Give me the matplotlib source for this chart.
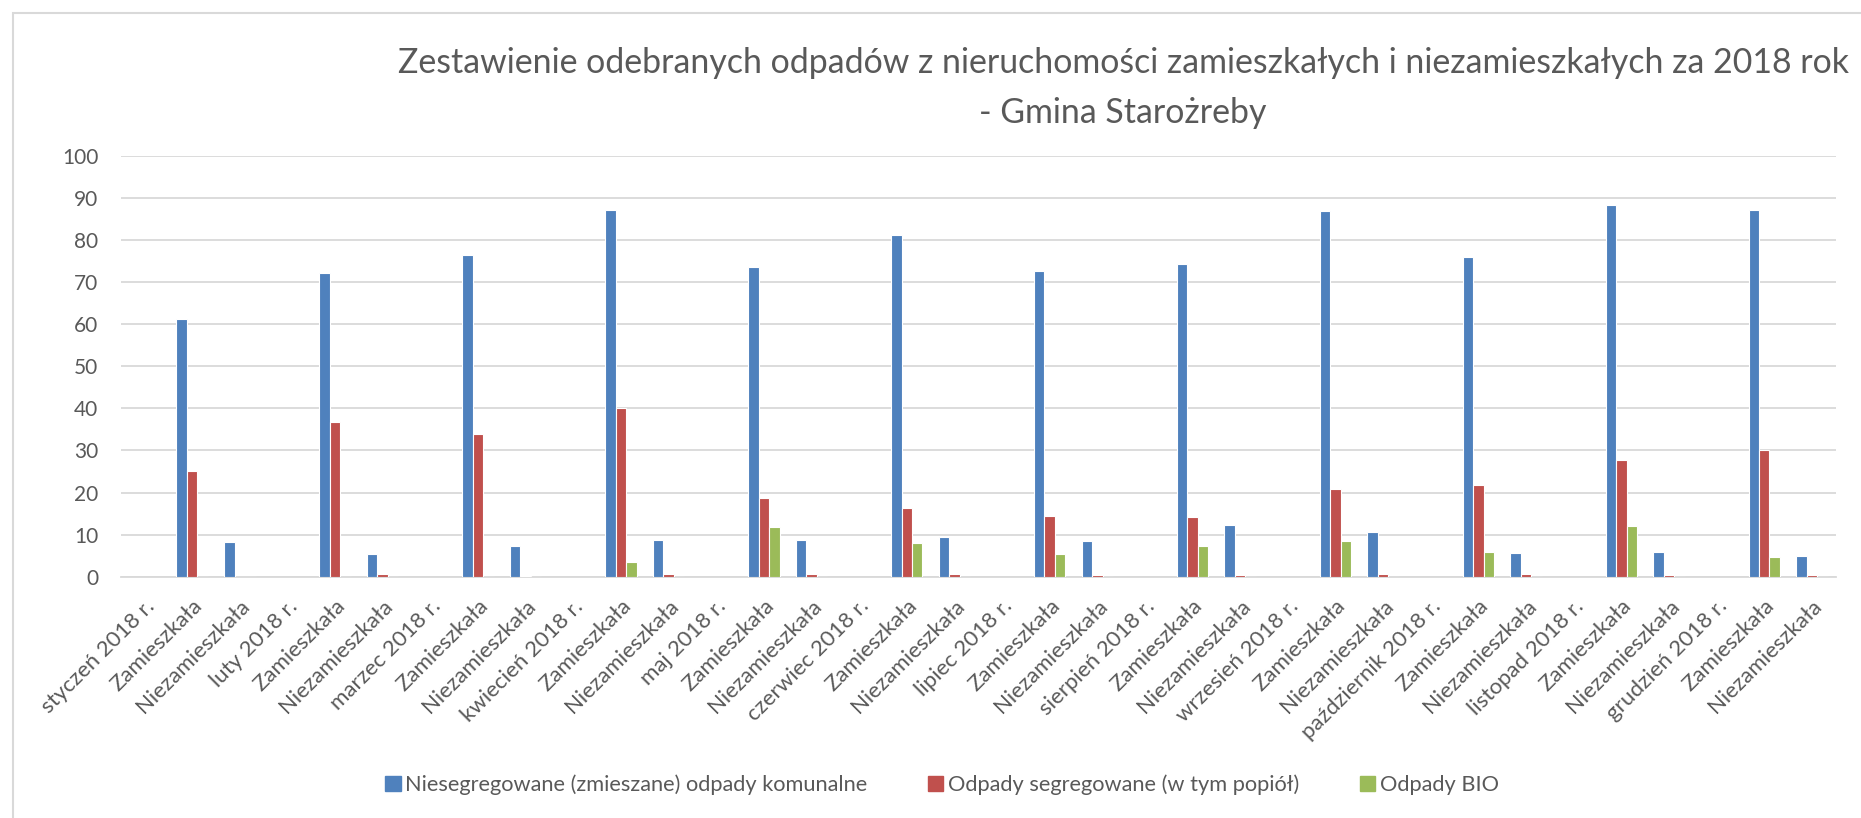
import matplotlib.pyplot as plt
import numpy as np
from matplotlib.patches import Patch, Rectangle

plt.rcParams['font.family'] = ['Lato', 'DejaVu Sans']

# dane
months = ['styczeń', 'luty', 'marzec', 'kwiecień', 'maj', 'czerwiec',
          'lipiec', 'sierpień', 'wrzesień', 'październik', 'listopad', 'grudzień']
series_names = ['Niesegregowane (zmieszane) odpady komunalne',
                'Odpady segregowane (w tym popiół)',
                'Odpady BIO']

niesegr_zam = [61.1, 72.1, 76.4, 87.0, 73.5, 81.1, 72.5, 74.3, 86.9, 76.0, 88.3, 87.0]
niesegr_niezam = [8.3, 5.5, 7.4, 8.6, 8.8, 9.4, 8.4, 12.2, 10.7, 5.6, 5.9, 5.0]
segr_zam = [25.2, 36.8, 33.8, 40.0, 18.6, 16.4, 14.4, 14.2, 20.8, 21.8, 27.8, 30.1]
segr_niezam = [0.0, 0.6, 0.2, 0.6, 0.6, 0.6, 0.4, 0.3, 0.6, 0.6, 0.4, 0.4]
bio_zam = [0.0, 0.0, 0.0, 3.6, 11.7, 8.1, 5.3, 7.3, 8.5, 5.8, 12.1, 4.6]
bio_niezam = [0.0] * 12

colors = ['#4F81BD', '#C0504D', '#9BBB59']
text_color = '#595959'
grid_color = '#D9D9D9'

# kategorie: miesiąc, Zamieszkała, Niezamieszkała
labels = []
for m in months:
    labels += [m + ' 2018 r.', 'Zamieszkała', 'Niezamieszkała']

def expand(zam, niezam):
    vals = []
    for z, n in zip(zam, niezam):
        vals += [np.nan, z, n]
    return np.array(vals)

series = [expand(niesegr_zam, niesegr_niezam),
          expand(segr_zam, segr_niezam),
          expand(bio_zam, bio_niezam)]

fig = plt.figure(figsize=(18.61, 8.18), dpi=100)
ax = fig.add_axes([120.7 / 1861, 1 - 576.7 / 818, 1715 / 1861, 421 / 818])

x = np.arange(len(labels))
w = 0.22
for i, (vals, c) in enumerate(zip(series, colors)):
    ax.bar(x + (i - 1) * w, vals, width=w, color=c, edgecolor='white',
           linewidth=0.8, zorder=3)

ax.set_xlim(-0.5, len(labels) - 0.5)
ax.set_ylim(0, 100)
ax.set_yticks(range(0, 101, 10))
ax.yaxis.grid(True, color=grid_color, linewidth=1.3, zorder=0)
ax.set_axisbelow(True)
for s in ['top', 'right', 'left']:
    ax.spines[s].set_visible(False)
ax.spines['bottom'].set_color(grid_color)
ax.spines['bottom'].set_linewidth(1.3)
ax.tick_params(axis='both', length=0, colors=text_color)
ax.tick_params(axis='y', labelsize=15, pad=16)
ax.set_xticks(x)
ax.set_xticklabels(labels, rotation=45, ha='right', rotation_mode='anchor',
                   fontsize=16)
ax.tick_params(axis='x', pad=14)

# tytuł
fig.text(1123 / 1861, 1 - 63 / 818,
         'Zestawienie odebranych odpadów z nieruchomości zamieszkałych i niezamieszkałych za 2018 rok',
         ha='center', va='center', fontsize=24.4, color=text_color)
fig.text(1123 / 1861, 1 - 113 / 818, '- Gmina Starożreby',
         ha='center', va='center', fontsize=24.4, color=text_color)

handles = [Patch(color=c) for c in colors]
fig.legend(handles, series_names, loc='center', ncol=3,
           bbox_to_anchor=(942 / 1861, 1 - 785 / 818), frameon=False,
           fontsize=15.7, labelcolor=text_color, handlelength=0.7,
           handleheight=0.7, handletextpad=0.2, columnspacing=2.8)

# ramka obszaru wykresu
fig.patches.append(Rectangle((13 / 1861, -0.1), 1.2, 1 - 13.5 / 818 + 0.1,
                             transform=fig.transFigure, fill=False,
                             edgecolor=grid_color, linewidth=1.5))

fig.savefig('out.png', dpi=100)
